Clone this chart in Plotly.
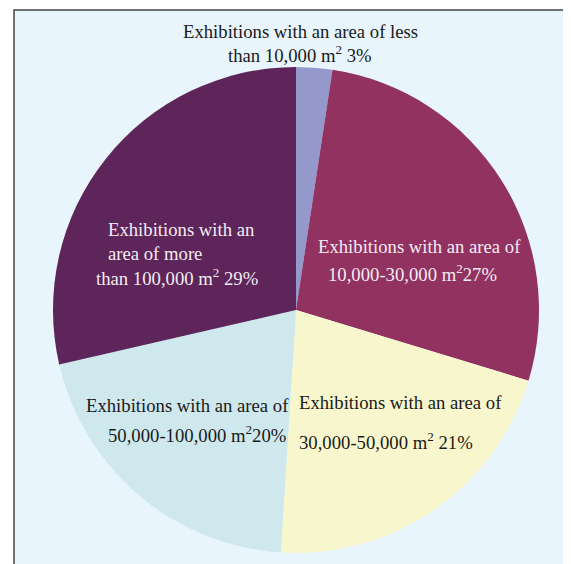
import plotly.graph_objects as go

W, H = 571, 564
OFF = 8  # page body margin offset

categories = [
    "Exhibitions with an area of less than 10,000 m2",
    "Exhibitions with an area of 10,000-30,000 m2",
    "Exhibitions with an area of 30,000-50,000 m2",
    "Exhibitions with an area of 50,000-100,000 m2",
    "Exhibitions with an area of more than 100,000 m2",
]
# slice sizes as drawn in the picture (labels show rounded shares)
values = [2.4, 27.3, 21.3, 20.4, 28.6]
colors = ["#9598CA", "#923261", "#F8F6CC", "#CEE8EE", "#5D2559"]

# label lines (text) for each slice
label_lines = [
    ["Exhibitions with an area of less", "than 10,000 m<sup>2</sup> 3%"],
    ["Exhibitions with an area of", "10,000-30,000 m<sup>2</sup>27%"],
    ["Exhibitions with an area of", "30,000-50,000 m<sup>2</sup> 21%"],
    ["Exhibitions with an area of", "50,000-100,000 m<sup>2</sup>20%"],
    ["Exhibitions with an", "area of more", "than 100,000 m<sup>2</sup> 29%"],
]

def px(x):
    return (x - OFF) / W

def py(y):
    return 1 - (y - OFF) / H

cx, cy, r = 296, 310, 243

fig = go.Figure(go.Pie(
    labels=categories,
    values=values,
    marker=dict(colors=colors, line=dict(width=0)),
    sort=False,
    direction="clockwise",
    rotation=0,
    textinfo="none",
    hoverinfo="label",
    showlegend=False,
    domain=dict(x=[px(cx - r), px(cx + r)], y=[py(cy + r), py(cy - r)]),
))

dark = "#1a1a1a"
light = "#F3ECF3"
# (slice index, line index, x px, y px, anchor, color)
placements = [
    (0, 0, 300, 32, "center", dark),
    (0, 1, 300, 54, "center", dark),
    (1, 0, 316, 246, "left", light),
    (1, 1, 326, 273, "left", light),
    (2, 0, 297, 402, "left", dark),
    (2, 1, 297, 441, "left", dark),
    (3, 0, 84, 405, "left", dark),
    (3, 1, 106, 434, "left", dark),
    (4, 0, 106, 230, "left", light),
    (4, 1, 106, 253, "left", light),
    (4, 2, 94, 277, "left", light),
]

annotations = []
for si, li, x, y, anc, col in placements:
    annotations.append(dict(
        text=label_lines[si][li], x=px(x), y=py(y), xref="paper", yref="paper",
        xanchor=anc, yanchor="middle", showarrow=False,
        font=dict(family="Liberation Serif, Times New Roman, serif", size=18.7, color=col),
    ))

fig.update_layout(
    width=W, height=H,
    margin=dict(l=0, r=0, t=0, b=0),
    paper_bgcolor="white",
    annotations=annotations,
    shapes=[dict(
        type="rect", xref="paper", yref="paper",
        x0=px(14), x1=1.05, y0=-0.05, y1=py(10),
        fillcolor="#E8F5FD", line=dict(color="#444444", width=1.5), layer="below",
    )],
)

fig.write_html("out.html")
